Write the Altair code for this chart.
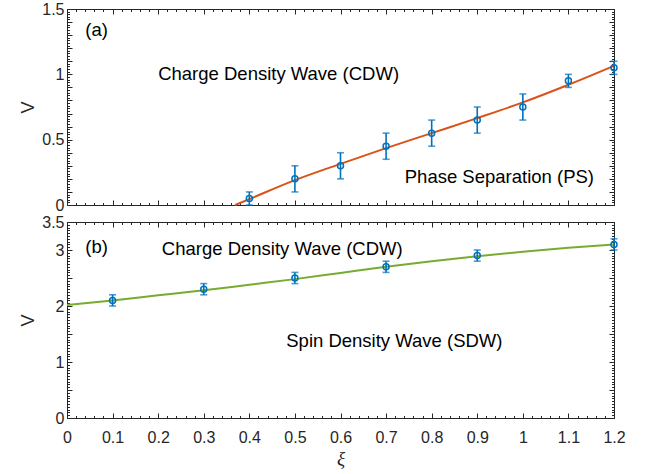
import altair as alt
import pandas as pd

# ---------------- data ----------------
# panel (a): CDW / PS boundary
xi_a = [0.4, 0.5, 0.6, 0.7, 0.8, 0.9, 1.0, 1.1, 1.2]
v_a = [0.05, 0.2, 0.3, 0.45, 0.55, 0.65, 0.75, 0.95, 1.05]
err_a = [0.05, 0.1, 0.1, 0.1, 0.1, 0.1, 0.1, 0.05, 0.05]
fit_xi_a = [0.369, 0.4, 0.5, 0.6, 0.7, 0.8, 0.9, 1.0, 1.1, 1.2]
fit_v_a = [0.0, 0.045, 0.19, 0.315, 0.435, 0.55, 0.665, 0.785, 0.92, 1.065]

# panel (b): CDW / SDW boundary
xi_b = [0.1, 0.3, 0.5, 0.7, 0.9, 1.2]
v_b = [2.1, 2.3, 2.5, 2.7, 2.9, 3.1]
err_b = [0.1, 0.1, 0.1, 0.1, 0.1, 0.1]
fit_xi_b = [0.0, 0.1, 0.2, 0.3, 0.4, 0.5, 0.6, 0.7, 0.8, 0.9, 1.0, 1.1, 1.2]
fit_v_b = [2.02, 2.10, 2.19, 2.28, 2.38, 2.48, 2.59, 2.70, 2.80, 2.89, 2.97, 3.04, 3.10]

# annotations
txt_a = ["(a)", "Charge Density Wave (CDW)", "Phase Separation (PS)"]
txt_a_x = [0.04, 0.2, 0.741]
txt_a_y = [1.34, 1.0, 0.215]
txt_b = ["(b)", "Charge Density Wave (CDW)", "Spin Density Wave (SDW)"]
txt_b_x = [0.04, 0.208, 0.481]
txt_b_y = [3.05, 3.02, 1.37]

# axes
x_labels = [0, 0.1, 0.2, 0.3, 0.4, 0.5, 0.6, 0.7, 0.8, 0.9, 1.0, 1.1, 1.2]
ya_labels = [0, 0.5, 1, 1.5]
yb_labels = [0, 1, 2, 3, 3.5]


def steps(lo, hi, step):
    n = int(round((hi - lo) / step))
    return [round(lo + i * step, 4) for i in range(n + 1)]


x_minor = steps(0, 1.2, 0.02)
ya_major = steps(0, 1.5, 0.1)
ya_minor = steps(0, 1.5, 0.02)
yb_major = steps(0, 3.5, 0.5)
yb_minor = steps(0, 3.5, 0.05)

# ---------------- style ----------------
W, H = 547, 196
DARK = "#262626"
BLUE = "#0072BD"
ORANGE = "#D95319"
GREEN = "#77AC30"
FONT = "Liberation Sans"


def tick_axis(orient, offset, values, size):
    return alt.Axis(orient=orient, offset=offset, values=values, tickSize=size,
                    labels=False, domain=False, grid=False, title=None,
                    tickColor=DARK, tickWidth=1)


def panel(xi, v, err, fxi, fv, txt, tx, ty, line_color, ydom, ylabels,
          ymajor, yminor, show_x):
    pts = pd.DataFrame({"xi": xi, "v": v, "err": err})
    pts["lo"] = pts["v"] - pts["err"]
    pts["hi"] = pts["v"] + pts["err"]
    fit = pd.DataFrame({"xi": fxi, "v": fv})
    notes = pd.DataFrame({"t": txt, "xi": tx, "v": ty})

    xs = alt.Scale(domain=[0, 1.2], nice=False, zero=False)
    ys = alt.Scale(domain=ydom, nice=False, zero=False)

    def carrier(xaxis, yaxis):
        return alt.Chart(pts).mark_point(opacity=0).encode(
            x=alt.X("xi:Q", scale=xs, axis=xaxis),
            y=alt.Y("v:Q", scale=ys, axis=yaxis),
        )

    x_lab = alt.Axis(orient="bottom", values=x_labels, tickSize=0, domain=False,
                     grid=False, labels=show_x, format="~g", labelFont=FONT,
                     labelFontSize=16, labelColor=DARK, labelPadding=11,
                     labelFlush=False,
                     title="ξ" if show_x else None, titleFont="Liberation Serif",
                     titleFontStyle="italic", titleFontWeight="normal",
                     titleFontSize=19, titleColor=DARK, titlePadding=4)
    y_lab = alt.Axis(orient="left", values=ylabels, tickSize=0, domain=False,
                     grid=False, format="~g", labelFont=FONT, labelFontSize=16,
                     labelColor=DARK, labelPadding=3, labelFlush=False,
                     title="V", titleFont=FONT,
                     titleFontWeight="normal", titleFontSize=18, titleColor=DARK,
                     titlePadding=4)

    layers = [
        carrier(x_lab, y_lab),
        carrier(tick_axis("top", -H, x_labels, 5), tick_axis("right", -W, ymajor, 5)),
        carrier(tick_axis("top", -H, x_minor, 2.5), tick_axis("right", -W, yminor, 2.5)),
        carrier(tick_axis("bottom", -H, x_labels, 5), tick_axis("left", -W, ymajor, 5)),
        carrier(tick_axis("bottom", -H, x_minor, 2.5), tick_axis("left", -W, yminor, 2.5)),
        alt.Chart(fit).mark_line(color=line_color, strokeWidth=2,
                                 interpolate="monotone").encode(
            x=alt.X("xi:Q", scale=xs, axis=None),
            y=alt.Y("v:Q", scale=ys, axis=None)),
        alt.Chart(pts).mark_errorbar(ticks=True, size=7, thickness=1.6,
                                     color=BLUE).encode(
            x=alt.X("xi:Q", scale=xs, axis=None),
            y=alt.Y("lo:Q", scale=ys, axis=None),
            y2="hi:Q"),
        alt.Chart(pts).mark_point(shape="circle", size=36, filled=False,
                                  strokeWidth=1.5, color=BLUE, opacity=1).encode(
            x=alt.X("xi:Q", scale=xs, axis=None),
            y=alt.Y("v:Q", scale=ys, axis=None)),
        alt.Chart(notes).mark_text(align="left", baseline="middle", font=FONT,
                                   fontSize=18.5, color="#000000").encode(
            x=alt.X("xi:Q", scale=xs, axis=None),
            y=alt.Y("v:Q", scale=ys, axis=None),
            text="t:N"),
    ]
    return alt.layer(*layers).resolve_axis(x="independent", y="independent").properties(
        width=W, height=H)


top = panel(xi_a, v_a, err_a, fit_xi_a, fit_v_a, txt_a, txt_a_x, txt_a_y, ORANGE,
            [0, 1.5], ya_labels, ya_major, ya_minor, False)
bottom = panel(xi_b, v_b, err_b, fit_xi_b, fit_v_b, txt_b, txt_b_x, txt_b_y, GREEN,
               [0, 3.5], yb_labels, yb_major, yb_minor, True)

chart = alt.vconcat(top, bottom, spacing=17, bounds="flush").properties(
    padding={"left": 19, "top": 0, "right": 5, "bottom": 5},
    background="white",
).configure_view(stroke=DARK, strokeWidth=1)

chart.save("out.html", embed_options={"renderer": "svg", "actions": False})
